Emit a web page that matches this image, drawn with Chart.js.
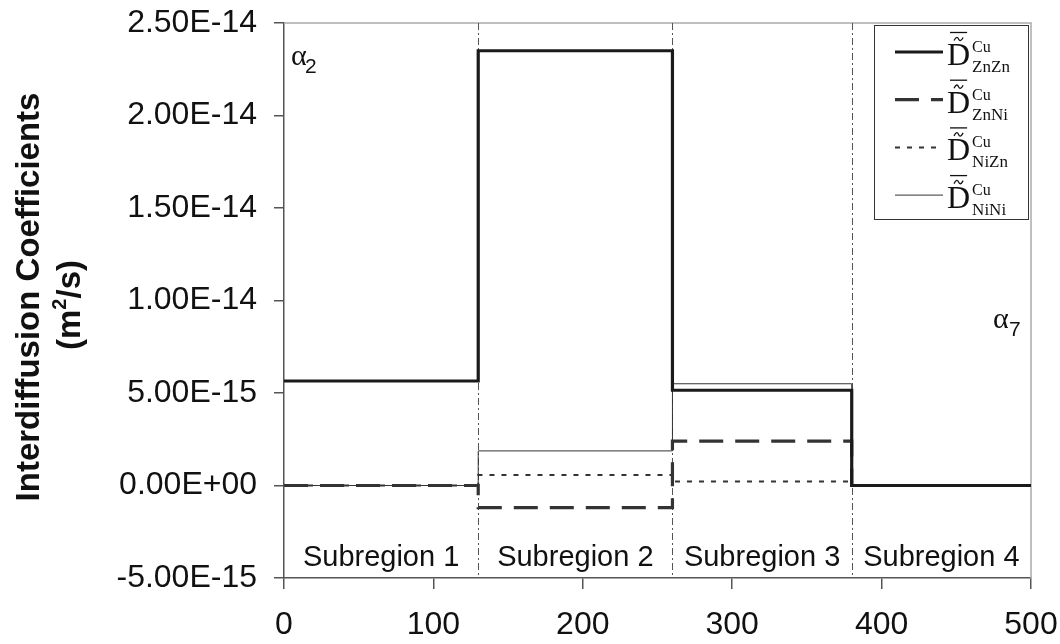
<!DOCTYPE html>
<html>
<head>
<meta charset="utf-8">
<script src="https://cdn.jsdelivr.net/npm/chart.js@4.4.1/dist/chart.umd.min.js"></script>
<style>
  html, body { margin: 0; padding: 0; background: #fff; }
  #wrap { width: 1060px; height: 644px; }
</style>
</head>
<body>
<div id="wrap"><canvas id="chart"></canvas></div>
<script>
// --- DATA ---
// start of each subregion along the profile, plus the end (x = 500)
const positions = [0, 130, 260, 380, 500];
// interdiffusion coefficients (m^2/s) per subregion; last value repeats so the step reaches 500
const dZnZn = [5.65e-15, 2.35e-14, 5.15e-15, 0, 0];
const dZnNi = [0, -1.2e-15, 2.4e-15, 0, 0];
const dNiZn = [0, 0.57e-15, 0.22e-15, 0, 0];
const dNiNi = [0, 1.87e-15, 5.5e-15, 0, 0];

const seriesSubs = ['ZnZn', 'ZnNi', 'NiZn', 'NiNi'];
const subregionLabels = ['Subregion 1', 'Subregion 2', 'Subregion 3', 'Subregion 4'];
const xTicks = [0, 100, 200, 300, 400, 500];
const yTicks = [-5e-15, 0, 5e-15, 1e-14, 1.5e-14, 2e-14, 2.5e-14];

const SANS = '"Liberation Sans", Arial, sans-serif';
const SERIF = '"Liberation Serif", "Times New Roman", serif';

// --- HELPERS ---
function sciLabel(v) {
    if (Math.abs(v) < 1e-20) v = 0;
    const [m, e] = v.toExponential(2).split('e');
    return m + 'E' + e[0] + e.slice(1).padStart(2, '0');
}

function toPoints(vals) {
    return positions.map((x, i) => ({ x, y: vals[i] }));
}

function drawTilde(ctx, x0, x1, y) {
    const w = x1 - x0;
    ctx.beginPath();
    ctx.moveTo(x0, y + 1.5);
    ctx.bezierCurveTo(x0 + w * 0.25, y - 3, x0 + w * 0.4, y - 2, x0 + w * 0.5, y);
    ctx.bezierCurveTo(x0 + w * 0.6, y + 2, x0 + w * 0.75, y + 3, x1, y - 1.5);
    ctx.stroke();
}

// --- ANNOTATIONS (frame, boundaries, labels, legend, axis title) ---
const decorations = {
    id: 'decorations',
    beforeDatasetsDraw(chart) {
        const { ctx, chartArea: a, scales: { x } } = chart;
        ctx.save();
        ctx.strokeStyle = '#aaa';
        ctx.lineWidth = 1.5;
        ctx.beginPath();
        ctx.moveTo(a.left, a.top);
        ctx.lineTo(a.right, a.top);
        ctx.lineTo(a.right, a.bottom);
        ctx.stroke();

        // dash-dot subregion boundaries
        ctx.strokeStyle = '#555';
        ctx.lineWidth = 1;
        ctx.setLineDash([7, 3, 2, 3]);
        positions.slice(1, -1).forEach(p => {
            const px = Math.round(x.getPixelForValue(p)) + 0.5;
            ctx.beginPath();
            ctx.moveTo(px, a.top);
            ctx.lineTo(px, a.bottom);
            ctx.stroke();
        });
        ctx.restore();
    },
    afterDraw(chart) {
        const { ctx, chartArea: a, scales: { x } } = chart;
        ctx.save();
        ctx.fillStyle = '#111';

        // subregion names
        ctx.font = '29px ' + SANS;
        ctx.textAlign = 'center';
        ctx.textBaseline = 'alphabetic';
        subregionLabels.forEach((t, i) => {
            const cx = (x.getPixelForValue(positions[i]) + x.getPixelForValue(positions[i + 1])) / 2;
            ctx.fillText(t, cx, a.bottom - 12);
        });

        // phase labels
        ctx.textAlign = 'left';
        ctx.font = '30px ' + SERIF;
        ctx.fillText('\u03b1', a.left + 7, a.top + 42);
        ctx.fillText('\u03b1', a.right - 38, a.top + 305);
        ctx.font = '21px ' + SANS;
        ctx.fillText('2', a.left + 21, a.top + 50);
        ctx.fillText('7', a.right - 22, a.top + 313);

        // y axis title, two lines
        ctx.font = 'bold 33px ' + SANS;
        ctx.textBaseline = 'middle';
        ctx.save();
        ctx.translate(30, a.top + 274);
        ctx.rotate(-Math.PI / 2);
        ctx.textAlign = 'center';
        ctx.fillText('Interdiffusion Coefficients', 0, 0);
        ctx.restore();

        ctx.save();
        ctx.translate(71, a.top + 282);
        ctx.rotate(-Math.PI / 2);
        ctx.textAlign = 'left';
        const big = 'bold 33px ' + SANS, small = 'bold 20px ' + SANS;
        ctx.font = big;
        const w1 = ctx.measureText('(m').width, w3 = ctx.measureText('/s)').width;
        ctx.font = small;
        const w2 = ctx.measureText('2').width;
        let px = -(w1 + w2 + w3) / 2;
        ctx.font = big;
        ctx.fillText('(m', px, 0);
        px += w1;
        ctx.font = small;
        ctx.fillText('2', px, -11);
        px += w2;
        ctx.font = big;
        ctx.fillText('/s)', px, 0);
        ctx.restore();

        // legend box
        const lx = a.right - 157, ly = a.top + 2, lw = 154, lh = 194;
        ctx.fillStyle = '#fff';
        ctx.fillRect(lx, ly, lw, lh);
        ctx.strokeStyle = '#333';
        ctx.lineWidth = 1;
        ctx.setLineDash([]);
        ctx.strokeRect(lx + 0.5, ly + 0.5, lw, lh);

        chart.data.datasets.forEach((ds, i) => {
            const ry = ly + 27 + i * 47.7;
            ctx.strokeStyle = ds.borderColor;
            ctx.lineWidth = ds.borderWidth;
            ctx.setLineDash(ds.borderDash || []);
            ctx.beginPath();
            ctx.moveTo(lx + 21, ry);
            ctx.lineTo(lx + 69, ry);
            ctx.stroke();
            ctx.setLineDash([]);

            ctx.fillStyle = '#111';
            ctx.textAlign = 'left';
            ctx.textBaseline = 'alphabetic';
            ctx.font = '32px ' + SERIF;
            const dx = lx + 73;
            const dw = ctx.measureText('D').width;
            ctx.fillText('D', dx, ry + 13);
            // bar and tilde over the D
            ctx.strokeStyle = '#111';
            ctx.lineWidth = 1.3;
            ctx.beginPath();
            ctx.moveTo(dx + 3, ry - 19.5);
            ctx.lineTo(dx + dw - 3, ry - 19.5);
            ctx.stroke();
            drawTilde(ctx, dx + 7, dx + dw - 7, ry - 13);

            ctx.font = '16px ' + SERIF;
            ctx.fillText('Cu', dx + dw + 2, ry);
            ctx.font = '17px ' + SERIF;
            ctx.fillText(seriesSubs[i], dx + dw + 2, ry + 20);
        });
        ctx.restore();
    }
};

// --- CHART ---
new Chart(document.getElementById('chart'), {
    type: 'line',
    data: {
        datasets: [
            { label: 'ZnZn', data: toPoints(dZnZn), borderColor: '#1a1a1a', borderWidth: 3.2, borderDash: [] },
            { label: 'ZnNi', data: toPoints(dZnNi), borderColor: '#333', borderWidth: 3.2, borderDash: [24, 12] },
            { label: 'NiZn', data: toPoints(dNiZn), borderColor: '#333', borderWidth: 2, borderDash: [5, 7] },
            { label: 'NiNi', data: toPoints(dNiNi), borderColor: '#333', borderWidth: 1, borderDash: [] }
        ].map(ds => ({ ...ds, stepped: true, pointRadius: 0, fill: false, tension: 0 }))
    },
    options: {
        responsive: true,
        maintainAspectRatio: false,
        animation: false,
        layout: { padding: { left: 90, right: 29, top: 23, bottom: 0 } },
        plugins: { legend: { display: false }, tooltip: { enabled: false } },
        scales: {
            x: {
                type: 'linear',
                min: 0,
                max: 500,
                afterBuildTicks: s => { s.ticks = xTicks.map(v => ({ value: v })); },
                afterFit: s => { s.height = 66; s.paddingLeft = 0; s.paddingRight = 0; },
                grid: { drawOnChartArea: false, drawTicks: true, tickLength: 11, color: '#555', lineWidth: 1.5 },
                border: { color: '#555', width: 1.5 },
                ticks: { color: '#111', font: { family: SANS, size: 32 }, padding: 17, maxRotation: 0 }
            },
            y: {
                type: 'linear',
                min: -5e-15,
                max: 2.5e-14,
                afterBuildTicks: s => { s.ticks = yTicks.map(v => ({ value: v })); },
                afterFit: s => { s.width = 194; s.paddingTop = 0; s.paddingBottom = 0; },
                grid: { drawOnChartArea: false, drawTicks: true, tickLength: 10, color: '#555', lineWidth: 1.5 },
                border: { color: '#555', width: 1.5 },
                ticks: { color: '#111', font: { family: SANS, size: 32 }, padding: 17, callback: v => sciLabel(v) }
            }
        }
    },
    plugins: [decorations]
});
</script>
</body>
</html>
